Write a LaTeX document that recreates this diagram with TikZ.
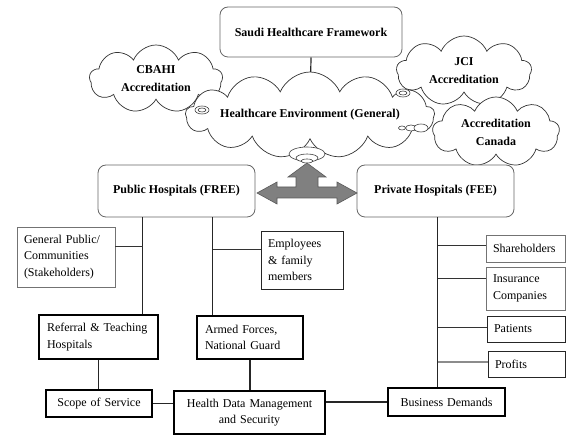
\documentclass[tikz,border=0pt]{standalone}
\usepackage{fontspec}
\setmainfont{Liberation Serif}
\usetikzlibrary{shapes.symbols,shapes.geometric}
\pgfdeclarelayer{bg}
\pgfsetlayers{bg,main}
\begin{document}
\begin{tikzpicture}[x=1pt,y=-1pt,
  rbox/.style={draw=black!60, line width=0.8pt, rounded corners=8pt, fill=white,
    font={\fontsize{12}{17}\selectfont\bfseries}, align=center, inner sep=0pt},
  cld/.style={cloud, cloud puffs=9, cloud puff arc=135, cloud ignores aspect, draw=black!80,
    line width=0.7pt, fill=white, font={\fontsize{12}{18}\selectfont\bfseries}, align=center, inner sep=0pt},
  tbox/.style={draw=black!55, line width=0.7pt, fill=white, align=left, inner xsep=7pt, inner ysep=0pt,
    font={\fontsize{12}{16.5}\selectfont}},
  kbox/.style={draw=black, line width=1.3pt, fill=white, inner xsep=8pt, inner ysep=0pt,
    font={\fontsize{12}{16.5}\selectfont}},
  bub/.style={ellipse, draw=black!75, line width=0.6pt, fill=white, inner sep=0pt},
  vline/.style={draw=black!85, line width=1.2pt},
  hline/.style={draw=black!80, line width=0.9pt},
]
\useasboundingbox (0,0) rectangle (566,435);

% top
\node[rbox, minimum width=182pt, minimum height=50pt] (fw) at (311,32) {Saudi Healthcare Framework};
\node[cld, minimum width=133pt, minimum height=68pt] (cb) at (156,79) {CBAHI\\Accreditation};
\node[cld, minimum width=135pt, minimum height=70pt] (jci) at (464,71) {JCI\\Accreditation};
\node[cld, minimum width=127pt, minimum height=70pt] (can) at (496,132) {Accreditation\\Canada};
\node[cld, cloud puffs=13, minimum width=222pt, minimum height=86pt] (env) at (310,115) {Healthcare Environment (General)};

\begin{pgfonlayer}{bg}
\draw[vline] (fw.south) -- (env.center);
\end{pgfonlayer}

% thought bubbles
\node[bub, minimum width=14pt, minimum height=8pt] (cbb1) at (202,110) {};
\node[bub, minimum width=8pt, minimum height=4pt] (cbb2) at (202,110) {};
\node[bub, minimum width=14pt, minimum height=8pt] (jb1) at (403,93) {};
\node[bub, minimum width=8pt, minimum height=4pt] (jb2) at (403,93) {};
\node[bub, minimum width=7pt, minimum height=4pt] (cn1) at (402,128) {};
\node[bub, minimum width=11pt, minimum height=6pt] (cn2) at (411,128) {};
\node[bub, minimum width=14pt, minimum height=8pt] (cn3) at (421,128) {};
\node[bub, minimum width=36pt, minimum height=14pt] (eb1) at (307,154) {};
\node[bub, minimum width=22pt, minimum height=8pt] (eb2) at (307,158) {};
\node[bub, minimum width=12pt, minimum height=4pt] (eb3) at (307,161) {};

% hospitals
\node[rbox, minimum width=157pt, minimum height=52pt] (pub) at (176.5,191) {Public Hospitals (FREE)};
\node[rbox, minimum width=157pt, minimum height=52pt] (priv) at (435.5,191) {Private Hospitals (FEE)};

% three-way arrow
\draw[fill=black!50, draw=black!65, line width=0.6pt]
  (257,193) -- (277,182) -- (277,187) -- (296,187) -- (296,177) -- (288,177) -- (307,163)
  -- (326,177) -- (318,177) -- (318,187) -- (337,187) -- (337,182) -- (357,193)
  -- (337,204) -- (337,198) -- (277,198) -- (277,204) -- cycle;

% lower boxes
\node[tbox, text width=84pt, minimum height=60pt] (gp) at (66,257) {General Public/\\Communities\\(Stakeholders)};
\node[tbox, draw=black!85, line width=0.9pt, text width=68pt, minimum height=58pt] (emp) at (302,260) {Employees\\\& family\\members};
\node[kbox, text width=103pt, align=left, minimum height=44pt] (ref) at (98.5,337) {Referral \& Teaching\\Hospitals};
\node[kbox, text width=90pt, align=left, minimum height=43pt] (arm) at (250,337.5) {Armed Forces,\\National Guard};
\node[kbox, line width=1.1pt, text width=90pt, align=center, minimum height=27pt] (scope) at (99,403.5) {Scope of Service};
\node[kbox, line width=1.1pt, text width=135pt, align=center, minimum height=43pt] (hd) at (249.5,412.5) {Health Data Management\\and Security};
\node[kbox, line width=1.1pt, text width=101pt, align=center, minimum height=28pt] (bd) at (446.5,402) {Business Demands};

\node[tbox, text width=65pt, minimum height=27pt] (sh) at (525.5,248.5) {Shareholders};
\node[tbox, text width=65pt, minimum height=43pt] (ins) at (525.5,288.5) {Insurance\\Companies};
\node[tbox, draw=black!85, text width=64pt, minimum height=26pt] (pat) at (526,329) {Patients};
\node[tbox, draw=black!85, text width=63pt, minimum height=26pt] (pro) at (526.5,364) {Profits};

% trunk points
\coordinate (pa) at ([xshift=45pt]pub.south west);
\coordinate (pb) at ([xshift=115pt]pub.south west);
\coordinate (pc) at ([xshift=81pt]priv.south west);

\draw[vline] (pa) -- (pa |- ref.north);
\draw[vline] (pb) -- (pb |- arm.north);
\draw[vline] (pc) -- (pc |- bd.north);

\draw[hline] ([yshift=11pt]gp.east) -- ([yshift=11pt]gp.east -| pa);
\draw[hline] ([yshift=11pt]emp.west) -- ([yshift=11pt]emp.west -| pb);
\draw[hline] ([yshift=3.5pt]sh.west) -- ([yshift=3.5pt]sh.west -| pc);
\draw[hline] ([yshift=10.5pt]ins.west) -- ([yshift=10.5pt]ins.west -| pc);
\draw[hline] ([yshift=2pt]pat.west) -- ([yshift=2pt]pat.west -| pc);
\draw[hline, draw=black!45, line width=1.1pt] ([yshift=2pt]pro.west) -- ([yshift=2pt]pro.west -| pc);

\draw[vline] (ref.south) -- (ref.south |- scope.north);
\draw[vline] (arm.south) -- (arm.south |- hd.north);
\draw[vline] (scope.east) -- (scope.east -| hd.west);
\draw[vline] (bd.west -| hd.east) -- (bd.west);
\end{tikzpicture}
\end{document}
